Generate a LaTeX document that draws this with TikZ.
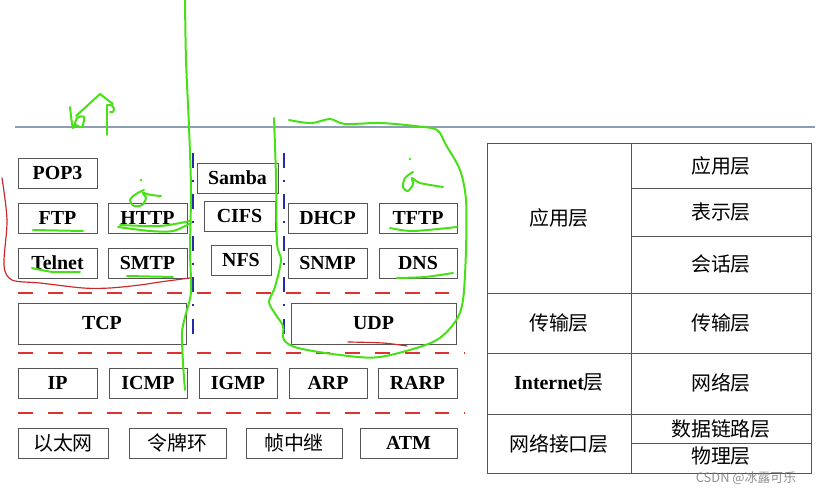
\documentclass[tikz,border=0pt]{standalone}
\usepackage{fontspec}
\setmainfont{Liberation Serif}
\newfontfamily\cjk{Noto Sans CJK SC}
\usetikzlibrary{calc}
\definecolor{framegray}{RGB}{85,85,85}
\definecolor{dashred}{RGB}{222,50,50}
\definecolor{sepblue}{RGB}{40,40,170}
\definecolor{pengreen}{RGB}{70,225,20}
\definecolor{penred}{RGB}{205,40,40}
\definecolor{topline}{RGB}{140,158,178}

\begin{document}
\begin{tikzpicture}[x=0.03cm,y=-0.03cm,
    proto/.style={draw=framegray, line width=0.8pt},
    lbl/.style={font=\fontsize{17}{20}\selectfont\bfseries, inner sep=0pt},
    zh/.style={font=\fontsize{17}{20}\selectfont\cjk, inner sep=0pt},
    layerline/.style={dashred, line width=1.7pt, dash pattern=on 12.7pt off 12.7pt},
    splitline/.style={sepblue, line width=1.6pt, dash pattern=on 12.7pt off 10pt on 1.7pt off 11pt},
    pen/.style={pengreen, line width=1.7pt, line cap=round, line join=round},
    redpen/.style={penred, line width=1pt, line cap=round, line join=round}]
  \useasboundingbox (0,0) rectangle (828,489);
  \draw[topline, line width=2.2pt] (15,127) -- (815,127);

  % application protocols
  \draw[proto] (18,158) rectangle (97,188) node[midway, lbl] (pop3) {POP3};
  \draw[proto] (18,203) rectangle (97,233) node[midway, lbl] (ftp) {FTP};
  \draw[proto] (108,203) rectangle (187,233) node[midway, lbl] (http) {HTTP};
  \draw[proto] (18,248) rectangle (97,278) node[midway, lbl] (telnet) {Telnet};
  \draw[proto] (108,248) rectangle (187,278) node[midway, lbl] (smtp) {SMTP};
  \draw[proto] (197,163) rectangle (278,193) node[midway, lbl] (samba) {Samba};
  \draw[proto] (204,201) rectangle (275,231) node[midway, lbl] (cifs) {CIFS};
  \draw[proto] (211,245) rectangle (271,275) node[midway, lbl] (nfs) {NFS};
  \draw[proto] (288,203) rectangle (367,233) node[midway, lbl] (dhcp) {DHCP};
  \draw[proto] (379,203) rectangle (457,233) node[midway, lbl] (tftp) {TFTP};
  \draw[proto] (288,248) rectangle (367,278) node[midway, lbl] (snmp) {SNMP};
  \draw[proto] (379,248) rectangle (457,278) node[midway, lbl] (dns) {DNS};

  % transport
  \draw[proto] (18,303) rectangle (186,344) node[midway, lbl] (tcp) {TCP};
  \draw[proto] (291,303) rectangle (456,344) node[midway, lbl] (udp) {UDP};

  % internet
  \draw[proto] (18,368) rectangle (97,398) node[midway, lbl] (ip) {IP};
  \draw[proto] (109,368) rectangle (187,398) node[midway, lbl] (icmp) {ICMP};
  \draw[proto] (199,368) rectangle (277,398) node[midway, lbl] (igmp) {IGMP};
  \draw[proto] (289,368) rectangle (367,398) node[midway, lbl] (arp) {ARP};
  \draw[proto] (378,368) rectangle (457,398) node[midway, lbl] (rarp) {RARP};

  % network access
  \draw[proto] (18,428) rectangle (108,458) node[midway, zh] (ether) {以太网};
  \draw[proto] (129,428) rectangle (226,458) node[midway, zh] (token) {令牌环};
  \draw[proto] (246,428) rectangle (342,458) node[midway, zh] (frame) {帧中继};
  \draw[proto] (360,428) rectangle (457,458) node[midway, lbl] (atm) {ATM};

  % layer separators
  \draw[layerline] (18,293) -- (465,293);
  \draw[layerline] (18,353) -- (465,353);
  \draw[layerline] (18,413) -- (465,413);
  \draw[splitline] (193,153) -- (193,345);
  \draw[splitline] (284,153) -- (284,345);

  % model table
  \draw[proto] (487,143) rectangle (811,473);
  \draw[proto] (631,143) -- (631,473);
  \draw[proto] (487,293) -- (811,293);
  \draw[proto] (487,353) -- (811,353);
  \draw[proto] (487,414) -- (811,414);
  \draw[proto] (631,188) -- (811,188);
  \draw[proto] (631,236) -- (811,236);
  \draw[proto] (631,443) -- (811,443);
  \node[zh] (tapp) at (559,218) {应用层};
  \node[zh] (ttrans) at (559,323) {传输层};
  \node[zh] (tnet) at (559,383) {{\bfseries\rmfamily Internet}层};
  \node[zh] (tlink) at (559,443.5) {网络接口层};
  \node[zh] (oapp) at (721,165.5) {应用层};
  \node[zh] (opres) at (721,212) {表示层};
  \node[zh] (osess) at (721,264.5) {会话层};
  \node[zh] (otrans) at (721,323) {传输层};
  \node[zh] (onet) at (721,383) {网络层};
  \node[zh] (odata) at (721,428.5) {数据链路层};
  \node[zh] (ophys) at (721,456) {物理层};
  \node[font=\fontsize{11}{13}\selectfont\cjk, text=black!55, opacity=0.8, inner sep=0pt] (mark) at (746,478) {CSDN @冰露可乐};

  % hand-written marks
  \draw[pen] plot[smooth] coordinates {(185,0) (186,60) (189,127) (191,190) (190,250) (191,292) (185,317) (182,333) (183,363) (185,390)};
  \draw[pen] plot[smooth] coordinates {(274,118) (276,177) (277,243) (281,260) (275,287) (269,302) (276,315) (283,326) (284,340) (298,348) (340,355) (380,357) (433,342) (455,322) (463,300) (466,250) (466,200) (460,170) (446,145) (437,130) (415,126) (380,123) (345,124) (330,119) (313,123) (300,122) (289,120)};
  \draw[pen] plot[smooth] coordinates {(70,107) (73,128) (77,118) (84,117) (82,127) (76,125)};
  \draw[pen] (76,116) -- (100,94) -- (113,104);
  \draw[pen] (107,135) -- (107,105) .. controls (116,103) and (116,114) .. (110,112);
  \fill[pengreen] (141,180) circle (1.3);
  \draw[pen] plot[smooth] coordinates {(144,190) (136,194) (130,200) (134,206) (142,205) (146,198) (143,193) (151,195) (161,196)};
  \fill[pengreen] (410,159) circle (1.3);
  \draw[pen] plot[smooth] coordinates {(413,172) (405,178) (403,187) (408,191) (413,184) (412,178) (420,183) (443,187)};
  \draw[pen] plot[smooth] coordinates {(118,227) (150,231) (173,231) (191,223)};
  \draw[pen] plot[smooth] coordinates {(120,225) (160,226) (190,221)};
  \draw[pen] (33,230) -- (83,231);
  \draw[pen] plot[smooth] coordinates {(32,268) (53,272) (80,272)};
  \draw[pen] (127,276) -- (173,277);
  \draw[pen] plot[smooth] coordinates {(390,228) (413,231) (457,227)};
  \draw[pen] plot[smooth] coordinates {(397,278) (425,277) (453,273)};
  \draw[redpen] plot[smooth] coordinates {(2,178) (7,220) (4,265) (12,280) (40,283) (83,288) (110,288) (140,285) (160,282) (190,278)};
  \draw[redpen] plot[smooth] coordinates {(348,342) (383,343) (407,346)};
\end{tikzpicture}
\end{document}
